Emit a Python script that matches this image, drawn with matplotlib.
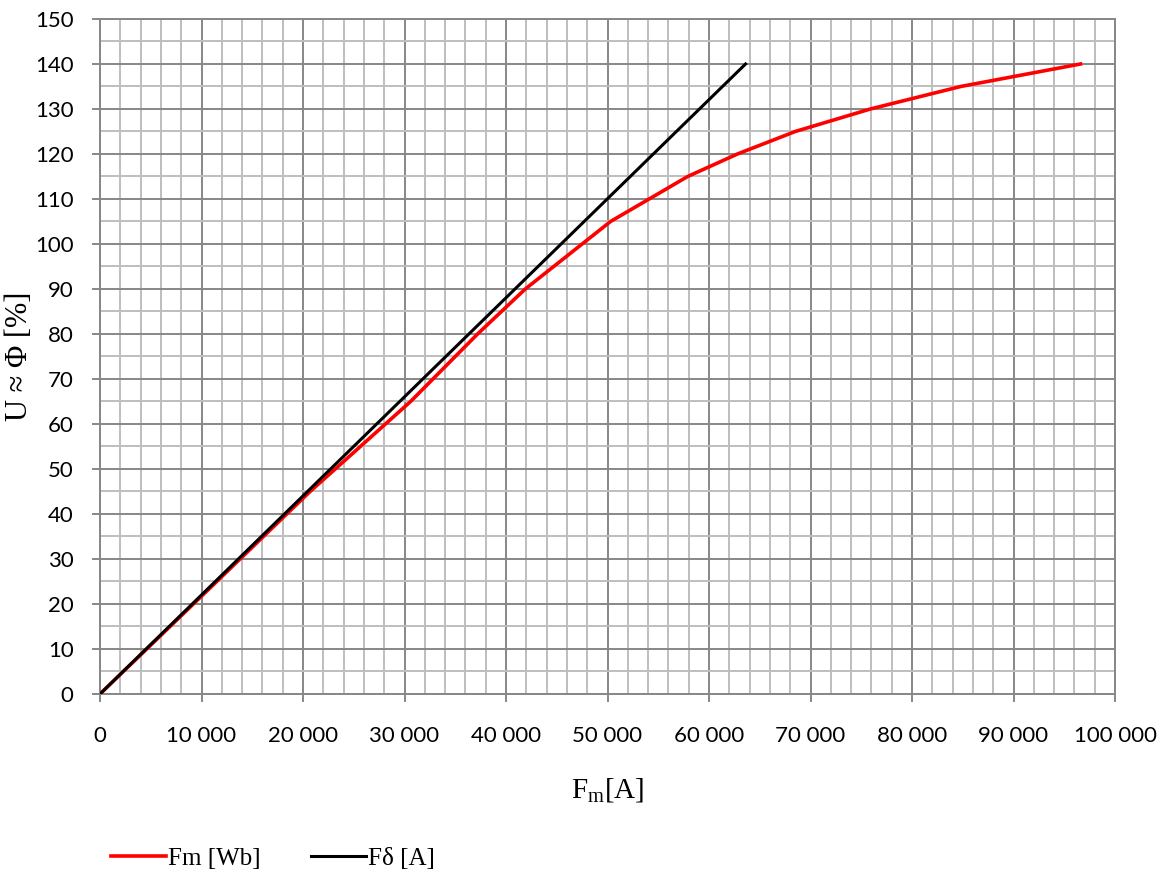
import matplotlib
matplotlib.use("Agg")
import matplotlib.pyplot as plt
from matplotlib.ticker import MultipleLocator, FuncFormatter

# magnetisation curve (red) and air-gap line (black)
fm_x = [0, 20700, 30600, 37200, 41900, 50300, 57900, 62800, 68500, 75900, 84800, 96600]
fm_u = [0, 45, 65, 80, 90, 105, 115, 120, 125, 130, 135, 140]
fd_x = [0, 63600]
fd_u = [0, 140]

x_ticks = list(range(0, 100001, 10000))
y_ticks = list(range(0, 151, 10))

fig = plt.figure(figsize=(11.7, 8.75), dpi=100)
ax = fig.add_axes([0.0855, 0.2069, 0.8675, 0.7714])

ax.plot(fm_x, fm_u, color="#ff0000", lw=2.6, label="Fm [Wb]", zorder=3)
ax.plot(fd_x, fd_u, color="black", lw=2.2, label="F\u03b4 [A]", zorder=4)

ax.set_xlim(0, 100000)
ax.set_ylim(0, 150)
ax.set_xticks(x_ticks)
ax.set_yticks(y_ticks)
ax.xaxis.set_minor_locator(MultipleLocator(2000))
ax.yaxis.set_minor_locator(MultipleLocator(5))
ax.xaxis.set_major_formatter(FuncFormatter(lambda v, p: f"{int(v):,}".replace(",", " ")))

ax.grid(which="major", color="#878787", lw=1.4, zorder=0)
ax.grid(which="minor", color="#bebebe", lw=1.4, zorder=0)
ax.set_axisbelow(True)
for s in ax.spines.values():
    s.set_color("#878787")
    s.set_linewidth(1.4)

ax.tick_params(which="major", length=6, width=1.4, color="#878787", labelsize=16)
ax.tick_params(which="minor", length=0)
ax.tick_params(axis="x", pad=17)
ax.tick_params(axis="y", pad=13)
for lab in ax.get_xticklabels() + ax.get_yticklabels():
    lab.set_fontfamily("Lato")

ax.set_xlabel(r"F$_\mathregular{m}$[A]", fontsize=21, family="Liberation Serif", labelpad=22)
ax.set_ylabel("U \u2248 \u03a6 [%]", fontsize=22, family="Liberation Serif")
ax.yaxis.set_label_coords(-0.065, 0.5)

fig.legend(loc="center left", bbox_to_anchor=(0.086, 0.019), ncol=2, frameon=False,
           prop={"family": "Liberation Serif", "size": 18}, handlelength=2.2,
           handletextpad=0.1, columnspacing=2.0, borderaxespad=0)

fig.savefig("out.png", dpi=100)
